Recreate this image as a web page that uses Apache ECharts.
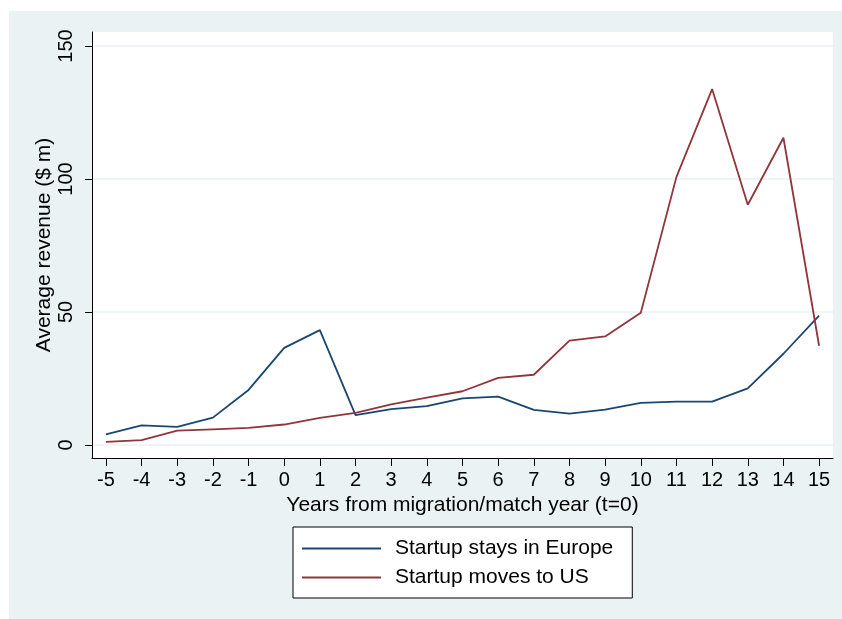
<!DOCTYPE html>
<html>
<head>
<meta charset="utf-8">
<script src="https://cdn.jsdelivr.net/npm/echarts@6/dist/echarts.min.js"></script>
<style>
  html, body { margin: 0; padding: 0; background: #ffffff; }
  #chart { width: 842px; height: 619px; }
</style>
</head>
<body>
<div id="chart"></div>
<script>
// Years relative to the migration / match year
const years = [-5, -4, -3, -2, -1, 0, 1, 2, 3, 4, 5, 6, 7, 8, 9, 10, 11, 12, 13, 14, 15];
// Average revenue ($ m) by group
const staysEurope = [4.0, 7.4, 6.8, 10.3, 20.7, 36.5, 43.2, 11.2, 13.5, 14.6, 17.5, 18.2, 13.2, 11.8, 13.3, 15.8, 16.3, 16.3, 21.3, 34.3, 48.6];
const movesUS = [1.2, 1.8, 5.4, 5.9, 6.4, 7.7, 10.2, 12.1, 15.3, 17.8, 20.2, 25.2, 26.4, 39.2, 40.8, 49.7, 100.8, 133.8, 90.3, 115.5, 37.3];
const revenueTicks = [0, 50, 100, 150];
const seriesNames = ['Startup stays in Europe', 'Startup moves to US'];

const FONT = '"Liberation Sans", Arial, sans-serif';
const BG = '#eaf2f3';

const chart = echarts.init(document.getElementById('chart'), null, { renderer: 'canvas' });

chart.setOption({
  animation: false,
  backgroundColor: '#ffffff',
  textStyle: { fontFamily: FONT },
  graphic: [{
    type: 'rect',
    z: -10,
    silent: true,
    shape: { x: 9, y: 11, width: 833, height: 608 },
    style: { fill: BG }
  }],
  grid: {
    left: 92, top: 32, right: 9, bottom: 161,
    show: true, backgroundColor: '#ffffff', borderWidth: 0
  },
  xAxis: {
    type: 'value',
    min: -5.39, max: 15.39,
    name: 'Years from migration/match year (t=0)',
    nameLocation: 'middle',
    nameGap: 32,
    nameTextStyle: { fontSize: 21, color: '#000', fontFamily: FONT },
    axisLine: { show: true, onZero: false, lineStyle: { color: '#000', width: 1 } },
    axisTick: { show: true, length: 8, customValues: years, lineStyle: { color: '#000' } },
    axisLabel: { customValues: years, fontSize: 20, color: '#000', margin: 12, fontFamily: FONT },
    splitLine: { show: false }
  },
  yAxis: {
    type: 'value',
    min: -4.89, max: 155.26,
    name: 'Average revenue ($ m)',
    nameLocation: 'middle',
    nameGap: 37,
    nameMoveOverlap: false,
    nameTextStyle: { fontSize: 21, color: '#000', fontFamily: FONT },
    axisLine: { show: true, onZero: false, lineStyle: { color: '#000', width: 1 } },
    axisTick: { show: true, length: 7, customValues: revenueTicks, lineStyle: { color: '#000' } },
    axisLabel: { customValues: revenueTicks, rotate: 90, fontSize: 20, color: '#000', margin: 16, fontFamily: FONT },
    splitLine: { show: true, lineStyle: { color: BG, width: 1.5 } }
  },
  legend: {
    orient: 'vertical',
    left: 293, top: 527,
    data: seriesNames,
    icon: 'rect',
    itemWidth: 79, itemHeight: 2,
    itemGap: 8,
    padding: [11, 19, 10, 9],
    backgroundColor: '#ffffff',
    borderColor: '#000', borderWidth: 1, borderRadius: 0,
    textStyle: { fontSize: 21, color: '#000', fontFamily: FONT, padding: [0, 0, 0, 9] }
  },
  series: [
    {
      name: seriesNames[0], type: 'line',
      data: years.map((y, i) => [y, staysEurope[i]]),
      showSymbol: false, symbol: 'none',
      color: '#1a476f',
      lineStyle: { color: '#1a476f', width: 1.8 }
    },
    {
      name: seriesNames[1], type: 'line',
      data: years.map((y, i) => [y, movesUS[i]]),
      showSymbol: false, symbol: 'none',
      color: '#90353b',
      lineStyle: { color: '#90353b', width: 1.8 }
    }
  ]
});
</script>
</body>
</html>
